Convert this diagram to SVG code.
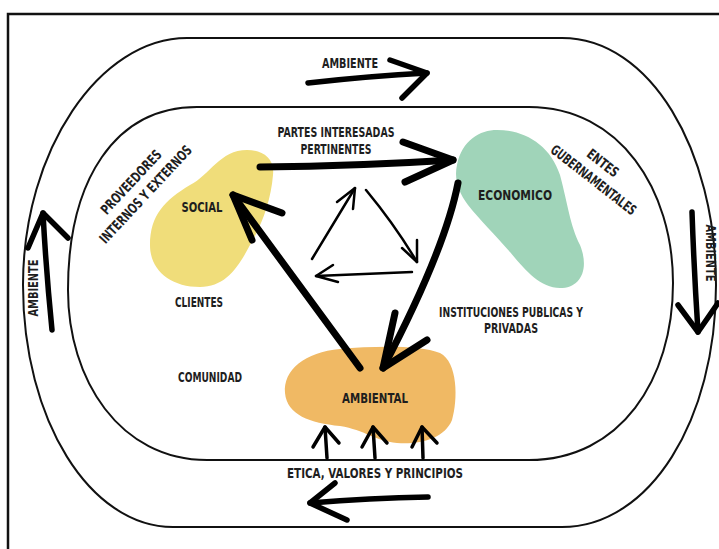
<svg xmlns="http://www.w3.org/2000/svg" width="719" height="549" viewBox="0 0 719 549">
<style>
.t{font-family:"DejaVu Sans","Liberation Sans",sans-serif;font-weight:bold;font-stretch:condensed;font-size:14px;fill:#1e1e1e;text-anchor:middle}
.loop{fill:none;stroke:#111;stroke-width:2}
.thick{fill:none;stroke:#000;stroke-width:7;stroke-linecap:round;stroke-linejoin:round}
.amb{fill:none;stroke:#000;stroke-width:5.5;stroke-linecap:round;stroke-linejoin:round}
.thin{fill:none;stroke:#000;stroke-width:2.5;stroke-linecap:round;stroke-linejoin:round}
.up{fill:none;stroke:#000;stroke-width:3.5;stroke-linecap:round;stroke-linejoin:round}
</style>
<rect width="719" height="549" fill="#fff"/>
<rect x="8" y="14" width="740" height="560" fill="none" stroke="#111" stroke-width="2.5"/>
<g id="outer-loop">
<path class="loop" d="M187,38 H562 C650,38 716,150 716,285 C716,420 650,527 562,527 H173 C90,527 23,420 23,285 C23,150 100,38 187,38 Z"/>
</g>
<g id="inner-loop">
<path class="loop" d="M197,107 H529 C620,107 673,190 673,283 C673,380 620,460 529,460 H207 C120,460 68,380 68,290 C68,180 115,107 197,107 Z"/>
</g>
<g id="social">
<path fill="#F0DD7A" d="M247,150 C262,150 275,158 273,175 C271,200 262,225 250,245 C238,268 225,287 200,287 C170,287 150,270 150,245 C150,215 165,200 190,185 C210,175 220,150 247,150 Z"/>
<text class="t" x="202" y="212" textLength="41" lengthAdjust="spacingAndGlyphs">SOCIAL</text>
</g>
<g id="economico">
<path fill="#A0D4B9" d="M457,165 C462,140 480,130 497,130 C525,130 550,145 560,175 C568,205 570,225 580,245 C590,270 580,288 560,288 C540,288 525,270 510,252 C495,235 480,220 468,205 C458,192 454,178 457,165 Z"/>
<text class="t" x="515" y="200" textLength="74" lengthAdjust="spacingAndGlyphs">ECONOMICO</text>
</g>
<g id="ambiental">
<path fill="#F0B964" d="M285,393 C283,370 305,352 340,349 C375,346 420,345 440,353 C458,362 458,400 452,420 C445,438 420,445 397,443 C375,441 365,430 340,426 C310,423 287,415 285,393 Z"/>
<text class="t" x="375" y="403" textLength="66" lengthAdjust="spacingAndGlyphs">AMBIENTAL</text>
</g>
<g id="labels">
<text class="t" x="336" y="137" textLength="117" lengthAdjust="spacingAndGlyphs">PARTES INTERESADAS</text>
<text class="t" x="336" y="154" textLength="71" lengthAdjust="spacingAndGlyphs">PERTINENTES</text>
<g transform="translate(131,182) rotate(-47)">
<text class="t" x="0" y="5" textLength="82" lengthAdjust="spacingAndGlyphs">PROVEEDORES</text>
<text class="t" x="1" y="24" textLength="128" lengthAdjust="spacingAndGlyphs">INTERNOS Y EXTERNOS</text>
</g>
<g transform="translate(603,163) rotate(38)">
<text class="t" x="0" y="5" textLength="36" lengthAdjust="spacingAndGlyphs">ENTES</text>
<text class="t" x="3" y="24" textLength="104" lengthAdjust="spacingAndGlyphs">GUBERNAMENTALES</text>
</g>
<text class="t" x="199" y="307" textLength="48" lengthAdjust="spacingAndGlyphs">CLIENTES</text>
<text class="t" x="210" y="382" textLength="64" lengthAdjust="spacingAndGlyphs">COMUNIDAD</text>
<text class="t" x="511" y="317" textLength="144" lengthAdjust="spacingAndGlyphs">INSTITUCIONES PUBLICAS Y</text>
<text class="t" x="511" y="333" textLength="54" lengthAdjust="spacingAndGlyphs">PRIVADAS</text>
<text class="t" x="375" y="478" textLength="176" lengthAdjust="spacingAndGlyphs">ETICA, VALORES Y PRINCIPIOS</text>
<text class="t" x="350" y="68" textLength="56" lengthAdjust="spacingAndGlyphs">AMBIENTE</text>
<text class="t" transform="translate(38,288) rotate(-90)" x="0" y="0" textLength="57" lengthAdjust="spacingAndGlyphs">AMBIENTE</text>
<text class="t" transform="translate(706,253) rotate(90)" x="0" y="0" textLength="57" lengthAdjust="spacingAndGlyphs">AMBIENTE</text>
</g>
<g id="connectors">
<path class="thick" d="M260,167 Q360,166 453,160"/>
<polyline class="thick" points="403,142 453,160 405,182"/>
<path class="thick" d="M458,183 Q445,250 383,368"/>
<polyline class="thick" points="395,313 383,368 427,340"/>
<path class="thick" d="M360,368 L233,195"/>
<polyline class="thick" points="282,213 233,195 252,240"/>
<path class="thin" d="M312,259 L355,188"/>
<polyline class="thin" points="337,202 355,188 353,209"/>
<path class="thin" d="M366,190 Q395,225 417,262"/>
<polyline class="thin" points="417,240 417,262 402,248"/>
<path class="thin" d="M412,272 L316,276"/>
<polyline class="thin" points="333,265 316,276 338,282"/>
<path class="amb" d="M308,83 Q370,76 427,73"/>
<polyline class="amb" points="390,60 427,73 402,98"/>
<path class="amb" d="M52,330 Q46,270 43,213"/>
<polyline class="amb" points="28,248 43,213 68,238"/>
<path class="amb" d="M692,212 Q694,270 698,332"/>
<polyline class="amb" points="678,305 698,332 718,303"/>
<path class="amb" d="M428,497 Q370,498 310,503"/>
<polyline class="amb" points="335,483 310,503 347,520"/>
<path class="up" d="M327,458 L325,427"/>
<polyline class="up" points="313,447 325,427 339,443"/>
<path class="up" d="M375,458 L373,427"/>
<polyline class="up" points="362,447 373,427 387,443"/>
<path class="up" d="M423,458 L422,427"/>
<polyline class="up" points="412,447 422,427 437,443"/>
</g>
</svg>
